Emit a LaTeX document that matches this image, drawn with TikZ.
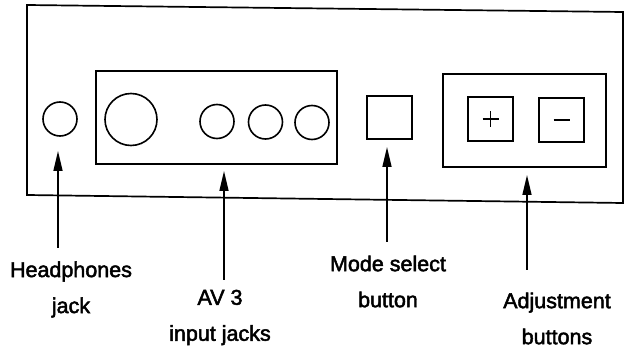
\documentclass[tikz,border=0pt]{standalone}
\usepackage{fontspec}
\setmainfont{Liberation Sans}
\newfontface\lblfont{Liberation Sans}[FakeBold=2.2]
\usetikzlibrary{arrows.meta}
\begin{document}
\begin{tikzpicture}[x=1pt,y=-1pt,
  part/.style={draw,line width=1.6pt,inner sep=0pt},
  jack/.style={part,circle},
  btn/.style={part,rectangle},
  lbl/.style={align=center,inner sep=0pt,font=\lblfont\fontsize{21.5}{36}\selectfont},
  sign/.style={line width=1.4pt},
  arr/.style={line width=1.6pt,-{Triangle[length=20pt,width=9pt]}}]
\useasboundingbox (0,0) rectangle (625,350);
% outer panel
\draw[line width=1.7pt] (27,5) -- (623,12) -- (623,203) -- (27,195) -- cycle;
% headphones jack
\node[jack,minimum size=34pt] (hp) at (60,119) {};
% AV box
\node[btn,minimum width=241pt,minimum height=93pt] (av) at (216.5,117.5) {};
\node[jack,minimum size=52pt] (big) at (131,119.5) {};
\node[jack,minimum size=34pt] (j1) at (217,121.5) {};
\node[jack,minimum size=34pt] (j2) at (265.5,122) {};
\node[jack,minimum size=34pt] (j3) at (312,122.5) {};
% mode select
\node[btn,minimum width=45pt,minimum height=43pt] (mode) at (389.5,117.5) {};
% adjustment
\node[btn,minimum width=163pt,minimum height=93pt] (adj) at (524.5,120.5) {};
\node[btn,minimum width=45pt,minimum height=44pt] (plus) at (490.5,119) {};
\node[btn,minimum width=45pt,minimum height=44pt] (minus) at (561.5,120) {};
\draw[sign] ([xshift=-8pt]plus.center) -- ([xshift=8pt]plus.center);
\draw[sign] ([yshift=-8pt]plus.center) -- ([yshift=8pt]plus.center);
\draw[sign] ([xshift=-8pt]minus.center) -- ([xshift=8pt]minus.center);
% labels
\node[lbl] (hpL) at (71,289.5) {Headphones\\jack};
\node[lbl] (avL) at (220,317.5) {AV 3\\input jacks};
\node[lbl] (modeL) at (388,281.5) {Mode select\\button};
\node[lbl] (adjL) at (557,318.5) {Adjustment\\buttons};
% arrow tails and tips
\coordinate (t1) at (58,248);
\coordinate (t2) at (224,280);
\coordinate (t3) at (387,242);
\coordinate (t4) at (527,270);
\coordinate (p1) at (58,151);
\coordinate (p2) at (224,171);
\coordinate (p3) at (387,147);
\coordinate (p4) at (527,175);
\draw[arr] (t1) -- (p1);
\draw[arr] (t2) -- (p2);
\draw[arr] (t3) -- (p3);
\draw[arr] (t4) -- (p4);
\end{tikzpicture}
\end{document}
